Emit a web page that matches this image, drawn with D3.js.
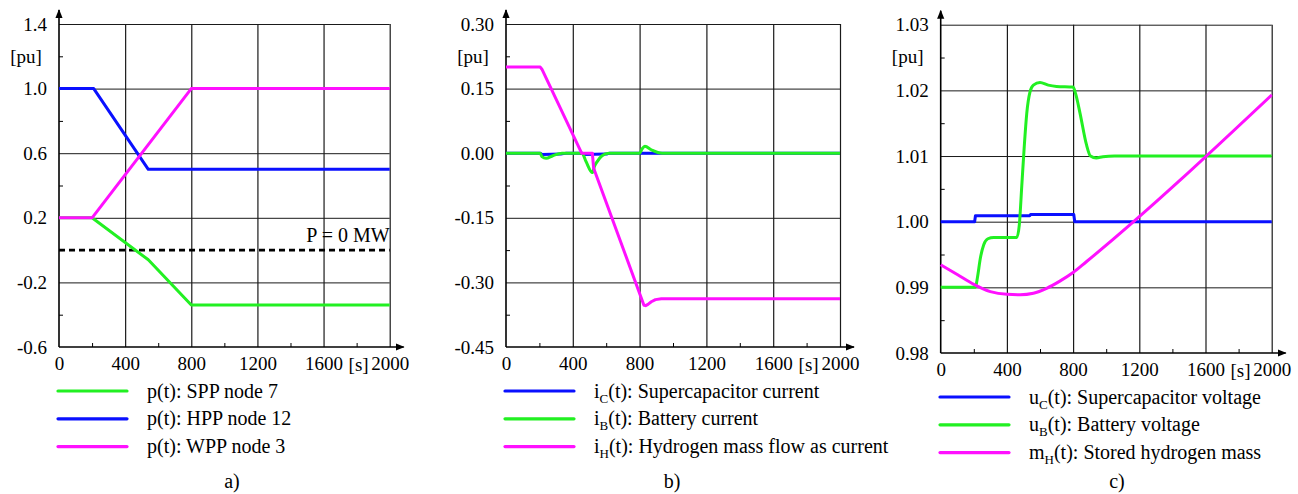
<!DOCTYPE html>
<html>
<head>
<meta charset="utf-8">
<script src="https://cdn.jsdelivr.net/npm/d3@7"></script>
<style>
  body { margin: 0; background: #fff; }
  svg { display: block; }
</style>
</head>
<body>
<svg id="chart"></svg>
<script>
// ---- data ----
const timeTicks = [0, 400, 800, 1200, 1600, 2000];
const timeMinor = [200, 600, 1000, 1400, 1800];

// a) active power of the plants
const yTicksA = [1.4, 1.0, 0.6, 0.2, -0.2, -0.6];
const sppT = [0, 200, 540, 800, 2000];
const sppP = [0.2, 0.2, -0.06, -0.34, -0.34];
const hppT = [0, 210, 540, 2000];
const hppP = [1.0, 1.0, 0.5, 0.5];
const wppT = [0, 200, 800, 2000];
const wppP = [0.2, 0.2, 1.0, 1.0];
const zeroPowerLevel = 0;

// b) storage currents
const yTicksB = [0.30, 0.15, 0.00, -0.15, -0.30, -0.45];
const icT = [0, 205, 215, 330, 360, 455, 465, 600, 620, 2000];
const icI = [0, 0, -0.003, -0.002, 0, 0, -0.003, -0.002, 0, 0];
const ibT = [0, 205, 215, 240, 280, 335, 455, 480, 517, 530, 545, 575, 615, 800, 815, 832, 870, 935, 2000];
const ibI = [0, 0, -0.008, -0.012, -0.006, 0, 0, -0.02, -0.045, -0.03, -0.02, -0.006, 0, 0, 0.01, 0.016, 0.008, 0, 0];
const ihT = [0, 205, 215, 453, 517, 525, 826, 836, 850, 870, 895, 930, 2000];
const ihI = [0.2, 0.2, 0.195, 0, 0, -0.035, -0.353, -0.354, -0.351, -0.345, -0.340, -0.338, -0.338];

// c) storage states
const yTicksC = [1.03, 1.02, 1.01, 1.00, 0.99, 0.98];
const ucT = [0, 205, 210, 538, 543, 804, 810, 2000];
const ucU = [1.0, 1.0, 1.0009, 1.0009, 1.0011, 1.0011, 1.0, 1.0];
const ubT = [0, 210, 222, 240, 260, 285, 320, 460, 475, 490, 505, 520, 540, 560, 600, 650, 700, 800, 815, 842, 880, 905, 940, 980, 1050, 2000];
const ubU = [0.990, 0.990, 0.9915, 0.9945, 0.9965, 0.9974, 0.9976, 0.9976, 0.9995, 1.0055, 1.0115, 1.0165, 1.0198, 1.0208, 1.0212, 1.0208, 1.0206, 1.0205, 1.0195, 1.0165, 1.0118, 1.0100, 1.0097, 1.0099, 1.0100, 1.0100];
const mhT = [0, 100, 200, 300, 400, 480, 560, 640, 720, 800, 880, 2000];
const mhM = [0.99343, 0.99195, 0.99045, 0.98935, 0.98893, 0.98887, 0.9891, 0.98985, 0.99095, 0.99226, 0.9939, 1.0193];

const GREEN = "#22f022", BLUE = "#0a10ff", MAGENTA = "#ff10ff";
const FONT = '"Liberation Serif", "Times New Roman", serif';

const zip = (ts, vs) => ts.map((t, i) => [t, vs[i]]);
const LIN = d3.curveLinear, SMOOTH = d3.curveMonotoneX;

const panels = [
  {
    left: 59, right: 389.7, top: 24, bottom: 347, digits: 1, yTicks: yTicksA,
    series: [
      { data: zip(sppT, sppP), color: GREEN, curve: LIN, label: ["p(t): SPP node 7"] },
      { data: zip(hppT, hppP), color: BLUE, curve: LIN, label: ["p(t): HPP node 12"] },
      { data: zip(wppT, wppP), color: MAGENTA, curve: LIN, label: ["p(t): WPP node 3"] }
    ],
    legendX: 58, legendY: 391, caption: "a)", captionX: 232
  },
  {
    left: 506, right: 840, top: 24, bottom: 347, digits: 2, yTicks: yTicksB,
    series: [
      { data: zip(icT, icI), color: BLUE, curve: SMOOTH, label: ["i", "C", "(t): Supercapacitor current"] },
      { data: zip(ibT, ibI), color: GREEN, curve: SMOOTH, label: ["i", "B", "(t): Battery current"] },
      { data: zip(ihT, ihI), color: MAGENTA, curve: LIN, label: ["i", "H", "(t): Hydrogen mass flow as current"] }
    ],
    legendX: 505, legendY: 391, caption: "b)", captionX: 672
  },
  {
    left: 940.7, right: 1271.7, top: 24.7, bottom: 353, digits: 2, yTicks: yTicksC,
    series: [
      { data: zip(ucT, ucU), color: BLUE, curve: LIN, label: ["u", "C", "(t): Supercapacitor voltage"] },
      { data: zip(ubT, ubU), color: GREEN, curve: SMOOTH, label: ["u", "B", "(t): Battery voltage"] },
      { data: zip(mhT, mhM), color: MAGENTA, curve: SMOOTH, label: ["m", "H", "(t): Stored hydrogen mass"] }
    ],
    legendX: 940, legendY: 397, caption: "c)", captionX: 1117
  }
];

const svg = d3.select("#chart").attr("width", 1298).attr("height", 494);
svg.append("rect").attr("width", 1298).attr("height", 494).attr("fill", "#fff");

const defs = svg.append("defs");
defs.append("marker")
  .attr("id", "arrow")
  .attr("viewBox", "0 0 10 10")
  .attr("refX", 9).attr("refY", 5)
  .attr("markerWidth", 9).attr("markerHeight", 9)
  .attr("markerUnits", "userSpaceOnUse")
  .attr("orient", "auto")
  .append("path").attr("d", "M0,1 L10,5 L0,9 Z").attr("fill", "#000");

function drawPanel(p, idx) {
  const x = d3.scaleLinear().domain([0, 2000]).range([p.left, p.right]);
  const yMin = p.yTicks[p.yTicks.length - 1], yMax = p.yTicks[0];
  const y = d3.scaleLinear().domain([yMin, yMax]).range([p.bottom, p.top]);
  const step = p.yTicks[0] - p.yTicks[1];
  const yMinor = p.yTicks.slice(0, -1).map(v => v - step / 2);
  const w = p.right - p.left, h = p.bottom - p.top;

  const g = svg.append("g");

  // grid
  g.append("g")
    .attr("transform", `translate(${p.left},0)`)
    .call(d3.axisLeft(y).tickValues(p.yTicks.slice(0, -1)).tickSize(-w).tickFormat(""))
    .call(s => s.select(".domain").remove())
    .call(s => s.selectAll("line").attr("stroke", "#1a1a1a").attr("stroke-width", 1));
  g.append("g")
    .attr("transform", `translate(0,${p.bottom})`)
    .call(d3.axisBottom(x).tickValues(timeTicks.slice(1)).tickSize(-h).tickFormat(""))
    .call(s => s.select(".domain").remove())
    .call(s => s.selectAll("line").attr("stroke", "#1a1a1a").attr("stroke-width", 1.2));

  // minor ticks
  g.append("g")
    .attr("transform", `translate(${p.left},0)`)
    .call(d3.axisLeft(y).tickValues(yMinor).tickSize(-4).tickFormat(""))
    .call(s => s.select(".domain").remove());
  g.append("g")
    .attr("transform", `translate(0,${p.bottom})`)
    .call(d3.axisBottom(x).tickValues(timeMinor).tickSize(-4).tickFormat(""))
    .call(s => s.select(".domain").remove());

  // tick labels
  g.append("g")
    .attr("transform", `translate(${p.left},0)`)
    .call(d3.axisLeft(y).tickValues(p.yTicks).tickSize(0).tickPadding(12)
      .tickFormat(v => v.toFixed(p.digits)))
    .call(s => s.select(".domain").remove())
    .attr("font-family", FONT).attr("font-size", 19);
  g.append("g")
    .attr("transform", `translate(0,${p.bottom})`)
    .call(d3.axisBottom(x).tickValues(timeTicks).tickSize(0).tickPadding(10).tickFormat(d => String(d)))
    .call(s => s.select(".domain").remove())
    .attr("font-family", FONT).attr("font-size", 19);
  g.append("text")
    .attr("x", x(1812)).attr("y", p.bottom + 24)
    .attr("text-anchor", "middle")
    .attr("font-family", FONT).attr("font-size", 19)
    .text("[s]");
  g.append("text")
    .attr("x", p.left - 33).attr("y", 63)
    .attr("text-anchor", "middle")
    .attr("font-family", FONT).attr("font-size", 19)
    .text("[pu]");

  // axes with arrows
  g.append("line")
    .attr("x1", p.left).attr("y1", p.bottom).attr("x2", p.left).attr("y2", p.top - 14)
    .attr("stroke", "#000").attr("stroke-width", 1.6).attr("marker-end", "url(#arrow)");
  g.append("line")
    .attr("x1", p.left).attr("y1", p.bottom).attr("x2", p.right + 14).attr("y2", p.bottom)
    .attr("stroke", "#000").attr("stroke-width", 1.6).attr("marker-end", "url(#arrow)");

  // reference level in panel a
  if (idx === 0) {
    g.append("line")
      .attr("x1", x(0)).attr("x2", x(2000))
      .attr("y1", y(zeroPowerLevel)).attr("y2", y(zeroPowerLevel))
      .attr("stroke", "#000").attr("stroke-width", 2.6).attr("stroke-dasharray", "6,4");
    g.append("text")
      .attr("x", x(2000)).attr("y", y(zeroPowerLevel) - 8)
      .attr("text-anchor", "end")
      .attr("font-family", FONT).attr("font-size", 20)
      .text("P = 0 MW");
  }

  // curves
  p.series.forEach(s => {
    const line = d3.line().x(d => x(d[0])).y(d => y(d[1])).curve(s.curve);
    g.append("path")
      .datum(s.data)
      .attr("d", line)
      .attr("fill", "none")
      .attr("stroke", s.color)
      .attr("stroke-width", 3)
      .attr("stroke-linejoin", "round");
  });

  // legend
  p.series.forEach((s, i) => {
    const ly = p.legendY + i * 27.8;
    g.append("line")
      .attr("x1", p.legendX).attr("x2", p.legendX + 69)
      .attr("y1", ly).attr("y2", ly)
      .attr("stroke", s.color).attr("stroke-width", 3.2).attr("stroke-linecap", "round");
    const t = g.append("text")
      .attr("x", p.legendX + 89).attr("y", ly + 6.5)
      .attr("font-family", FONT).attr("font-size", 20);
    if (s.label.length === 1) {
      t.text(s.label[0]);
    } else {
      t.append("tspan").text(s.label[0]);
      t.append("tspan").attr("font-size", 13).attr("dy", 5).text(s.label[1]);
      t.append("tspan").attr("dy", -5).text(s.label[2]);
    }
  });

  g.append("text")
    .attr("x", p.captionX).attr("y", 488)
    .attr("text-anchor", "middle")
    .attr("font-family", FONT).attr("font-size", 20)
    .text(p.caption);
}

panels.forEach(drawPanel);
</script>
</body>
</html>
